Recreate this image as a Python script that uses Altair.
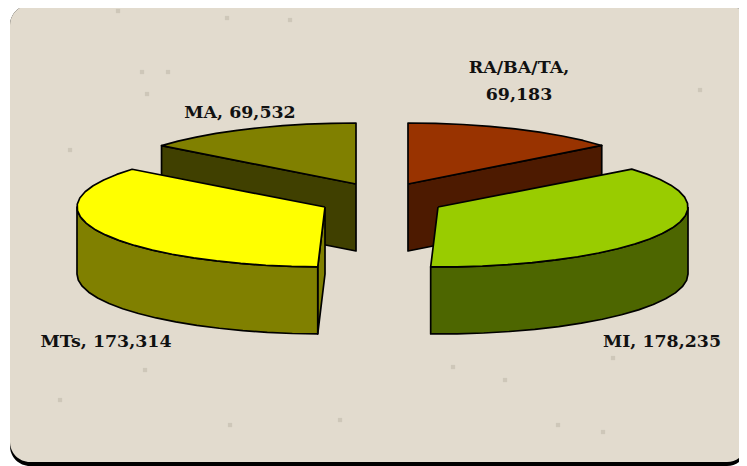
import math
import altair as alt
import pandas as pd

# Slice values, clockwise from 12 o'clock
categories = ["RA/BA/TA", "MI", "MTs", "MA"]
values = [69183, 178235, 173314, 69532]
top_colors = ["#993300", "#99CC00", "#FFFF00", "#808000"]
side_colors = ["#4D1A00", "#4D6600", "#808000", "#404000"]
apex_x = [408, 438, 325, 356]
apex_y = [184, 207, 207, 184]
radius_x = [250, 250, 248, 250]
radius_y = [61, 60, 60, 61]
depth = 67

label_lines = ["RA/BA/TA,", "69,183", "MI, 178,235", "MTs, 173,314", "MA, 69,532"]
label_x = [519, 519, 662, 106, 240]
label_y = [68, 95, 342, 342, 113]

speck_x = [142, 147, 118, 227, 145, 453, 168, 230, 603, 613, 430, 505, 60, 340, 290, 70, 700, 558]
speck_y = [72, 94, 11, 18, 370, 367, 72, 425, 432, 358, 190, 380, 400, 420, 20, 150, 90, 425]

SCALE_X = alt.Scale(domain=[8, 739], range=[0, 731])
SCALE_Y = alt.Scale(domain=[8, 466], range=[0, 458])


def qx(name="x"):
    return alt.X(f"{name}:Q", scale=SCALE_X, axis=None)


def qy(name="y"):
    return alt.Y(f"{name}:Q", scale=SCALE_Y, axis=None)


total = sum(values)
angles = [0.0]
for v in values:
    angles.append(angles[-1] + 360.0 * v / total)


def rim(i, a, drop=0):
    t = math.radians(a)
    return (apex_x[i] + radius_x[i] * math.sin(t), apex_y[i] - radius_y[i] * math.cos(t) + drop)


def sweep(a0, a1, step=6.0):
    n = max(1, int(round(abs(a1 - a0) / step)))
    return [a0 + (a1 - a0) * k / n for k in range(n + 1)]


def poly(points, fill):
    pts = list(points) + [points[0]]
    df = pd.DataFrame({"x": [p[0] for p in pts], "y": [p[1] for p in pts], "o": range(len(pts))})
    return alt.Chart(df).mark_line(
        fill=fill, stroke="black", strokeWidth=1.7, strokeJoin="round", clip=False
    ).encode(x=qx(), y=qy(), order=alt.Order("o:Q"))


def top_face(i):
    return poly([(apex_x[i], apex_y[i])] + [rim(i, a) for a in sweep(angles[i], angles[i + 1])], top_colors[i])


def wall(i, a0, a1):
    arc = sweep(a0, a1)
    return poly([rim(i, a) for a in arc] + [rim(i, a, depth) for a in reversed(arc)], side_colors[i])


def cut(i, a):
    return poly(
        [(apex_x[i], apex_y[i]), rim(i, a), rim(i, a, depth), (apex_x[i], apex_y[i] + depth)],
        side_colors[i],
    )


def panel(x0, x1, y0, y1, color):
    df = pd.DataFrame({"x": [x0], "x2": [x1], "y": [y0], "y2": [y1]})
    return alt.Chart(df).mark_rect(color=color, cornerRadius=20, clip=False).encode(
        x=qx(), x2="x2:Q", y=qy(), y2="y2:Q"
    )


specks = alt.Chart(pd.DataFrame({"x": speck_x, "y": speck_y})).mark_square(
    size=18, color="#C6BFB1", opacity=0.7
).encode(x=qx(), y=qy())

labels = alt.Chart(pd.DataFrame({"x": label_x, "y": label_y, "t": label_lines})).mark_text(
    font="DejaVu Serif", fontWeight="bold", fontSize=17.4, color="#111111", align="center", baseline="middle"
).encode(x=qx(), y=qy(), text="t:N")

layers = [
    panel(10, 747, 5, 466, "black"),
    panel(10, 747, 5, 462, "#E2DBCE"),
    specks,
    cut(3, angles[3]), top_face(3),          # MA
    cut(0, angles[1]), top_face(0),          # RA/BA/TA
    cut(2, angles[2]), wall(2, angles[2], 270), top_face(2),  # MTs
    wall(1, 90, angles[2]), top_face(1),     # MI
    labels,
]

chart = alt.layer(*layers).properties(
    width=731, height=458, padding=0, autosize=alt.AutoSizeParams(type="none"), background="white"
).configure_view(stroke=None)

chart.save("out.html", embed_options={"renderer": "svg", "actions": False})
